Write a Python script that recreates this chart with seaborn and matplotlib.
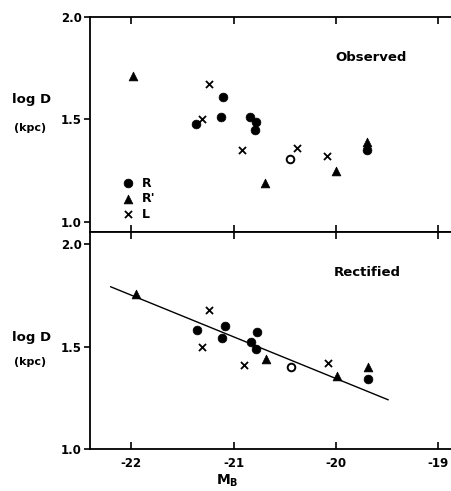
import matplotlib
matplotlib.use("Agg")
import matplotlib.pyplot as plt
import seaborn as sns

# Observed panel
obs_R_x = [-21.10, -21.37, -21.12, -20.84, -20.78, -20.79, -19.70]
obs_R_y = [1.61, 1.48, 1.51, 1.51, 1.49, 1.45, 1.35]
obs_Rp_x = [-21.98, -20.69, -20.00, -19.70]
obs_Rp_y = [1.71, 1.19, 1.25, 1.39]
obs_L_x = [-21.24, -21.31, -20.92, -20.38, -20.09]
obs_L_y = [1.675, 1.50, 1.35, 1.36, 1.32]
obs_open_x = [-20.45]
obs_open_y = [1.305]

# Rectified panel
rect_R_x = [-21.36, -21.08, -21.11, -20.77, -20.83, -20.78, -19.69]
rect_R_y = [1.58, 1.60, 1.54, 1.57, 1.52, 1.49, 1.34]
rect_Rp_x = [-21.95, -20.68, -19.99, -19.69]
rect_Rp_y = [1.755, 1.437, 1.354, 1.398]
rect_L_x = [-21.235, -21.31, -20.90, -20.08]
rect_L_y = [1.68, 1.50, 1.41, 1.42]
rect_open_x = [-20.44]
rect_open_y = [1.40]

fit_x = [-22.2, -19.49]
fit_y = [1.792, 1.240]

xticks = [-22, -21, -20, -19]
xticklabels = ['-22', '-21', '-20', '-19']
yticks = [1.0, 1.5, 2.0]
yticklabels = ['1.0', '1.5', '2.0']

sns.set_style("ticks")
plt.rcParams['font.family'] = ['DejaVu Sans']
plt.rcParams['font.weight'] = 'bold'
plt.rcParams['mathtext.fontset'] = 'dejavusans'
plt.rcParams['axes.unicode_minus'] = False
for k in ['text.color', 'axes.labelcolor', 'xtick.color', 'ytick.color',
          'axes.edgecolor']:
    plt.rcParams[k] = 'black'

fig = plt.figure(figsize=(4.51, 4.91), dpi=100)
ax1 = fig.add_axes([0.1996, 0.5275, 0.8004, 0.4379])
ax2 = fig.add_axes([0.1996, 0.0855, 0.8004, 0.4420])


def draw(ax, rx, ry, px, py, lx, ly, ox, oy):
    sns.scatterplot(x=rx, y=ry, ax=ax, marker='o', color='black', s=40,
                    edgecolor='black', linewidth=0.5, label='R')
    sns.scatterplot(x=px, y=py, ax=ax, marker='^', color='black', s=40,
                    edgecolor='black', linewidth=0.5, label="R'")
    sns.scatterplot(x=lx, y=ly, ax=ax, marker='x', color='black', s=26,
                    linewidth=1.3, label='L')
    sns.scatterplot(x=ox, y=oy, ax=ax, marker='o', facecolor='white',
                    edgecolor='black', s=30, linewidth=1.4)


draw(ax1, obs_R_x, obs_R_y, obs_Rp_x, obs_Rp_y, obs_L_x, obs_L_y,
     obs_open_x, obs_open_y)
draw(ax2, rect_R_x, rect_R_y, rect_Rp_x, rect_Rp_y, rect_L_x, rect_L_y,
     rect_open_x, rect_open_y)
sns.lineplot(x=fit_x, y=fit_y, ax=ax2, color='black', linewidth=1.0)

ax1.set_ylim(0.951, 2.0)
ax2.set_ylim(1.0, 2.059)

for ax in (ax1, ax2):
    ax.set_xlim(-22.4, -18.878)
    ax.set_xticks(xticks)
    ax.set_yticks(yticks)
    ax.set_yticklabels(yticklabels)
    ax.spines['right'].set_visible(False)
    for s in ['left', 'top', 'bottom']:
        ax.spines[s].set_linewidth(1.3)
    ax.tick_params(axis='x', direction='in', top=True, bottom=True,
                   length=5, width=1.2, labelsize=8.5, pad=6)
    ax.tick_params(axis='y', direction='out', length=4, width=1.2,
                   labelsize=8.5, pad=2)
    ax.set_xlabel('')
    ax.set_ylabel('')

ax1.set_xticklabels([])
ax2.set_xticklabels(xticklabels)

ax1.legend(loc='lower left', bbox_to_anchor=(0.07, 0.03), frameon=False,
           prop={'size': 9, 'weight': 'bold'}, handletextpad=0.5,
           labelspacing=0.2, handlelength=1.2, borderaxespad=0)
if ax2.get_legend():
    ax2.get_legend().remove()

ax1.text(-20.01, 1.80, 'Observed', fontsize=9.5, fontweight='bold', va='center')
ax2.text(-20.02, 1.86, 'Rectified', fontsize=9.5, fontweight='bold', va='center')

ax1.text(-0.163, 0.614, 'log D', transform=ax1.transAxes, ha='center',
         va='center', fontsize=9.5, fontweight='bold')
ax1.text(-0.165, 0.484, '(kpc)', transform=ax1.transAxes, ha='center',
         va='center', fontsize=8, fontweight='bold')
ax2.text(-0.163, 0.516, 'log D', transform=ax2.transAxes, ha='center',
         va='center', fontsize=9.5, fontweight='bold')
ax2.text(-0.165, 0.40, '(kpc)', transform=ax2.transAxes, ha='center',
         va='center', fontsize=8, fontweight='bold')

ax2.text(0.38, -0.145, r'$\mathbf{M_B}$', transform=ax2.transAxes,
         ha='center', va='center', fontsize=10)

fig.savefig('out.png', dpi=100)
